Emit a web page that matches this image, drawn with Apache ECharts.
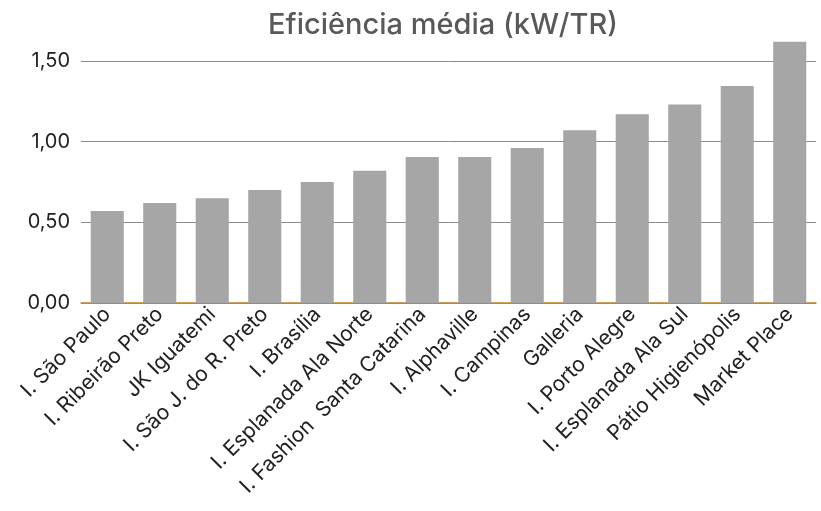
<!DOCTYPE html>
<html>
<head>
<meta charset="utf-8">
<script src="https://cdn.jsdelivr.net/npm/echarts@6/dist/echarts.min.js"></script>
<style>
html,body{margin:0;padding:0;background:#fff;}
#chart{width:821px;height:511px;}
</style>
</head>
<body>
<div id="chart"></div>
<script>
const title = 'Eficiência média (kW/TR)';
const categories = ['I. São Paulo','I. Ribeirão Preto','JK Iguatemi','I. São J. do R. Preto','I. Brasília','I. Esplanada Ala Norte','I. Fashion  Santa Catarina','I. Alphaville','I. Campinas','Galleria','I. Porto Alegre','I. Esplanada Ala Sul','Pátio Higienópolis','Market Place'];
const values = [0.57, 0.62, 0.65, 0.70, 0.75, 0.82, 0.905, 0.905, 0.96, 1.07, 1.17, 1.23, 1.345, 1.62];
const yTicks = [0, 0.5, 1.0, 1.5];

const chart = echarts.init(document.getElementById('chart'));
const font = 'Inter, "Noto Sans", sans-serif';
chart.setOption({
  animation: false,
  backgroundColor: '#fff',
  title: {
    text: title, left: 438, textAlign: 'center', top: 6,
    textStyle: {fontFamily: font, fontSize: 29, fontWeight: 500, color: '#595959'}
  },
  grid: {left: 81, right: 5, top: 61, bottom: 208},
  xAxis: {
    type: 'category', data: categories,
    axisLine: {lineStyle: {color: '#c5832a', width: 1.5}},
    axisTick: {show: false},
    axisLabel: {rotate: 45, interval: 0, margin: 8, fontFamily: font, fontSize: 21, color: '#222'}
  },
  yAxis: {
    type: 'value', min: yTicks[0], max: yTicks[yTicks.length-1], interval: 0.5,
    axisLine: {show: false}, axisTick: {show: false},
    splitLine: {lineStyle: {color: '#8c8c8c', width: 1}},
    axisLabel: {margin: 11, fontFamily: font, fontSize: 20, color: '#222',
      formatter: v => v.toFixed(2).replace('.', ',')}
  },
  series: [{
    type: 'bar', data: values, clip: false, barWidth: '63%',
    itemStyle: {color: '#a6a6a6'}
  }]
});
</script>
</body>
</html>
